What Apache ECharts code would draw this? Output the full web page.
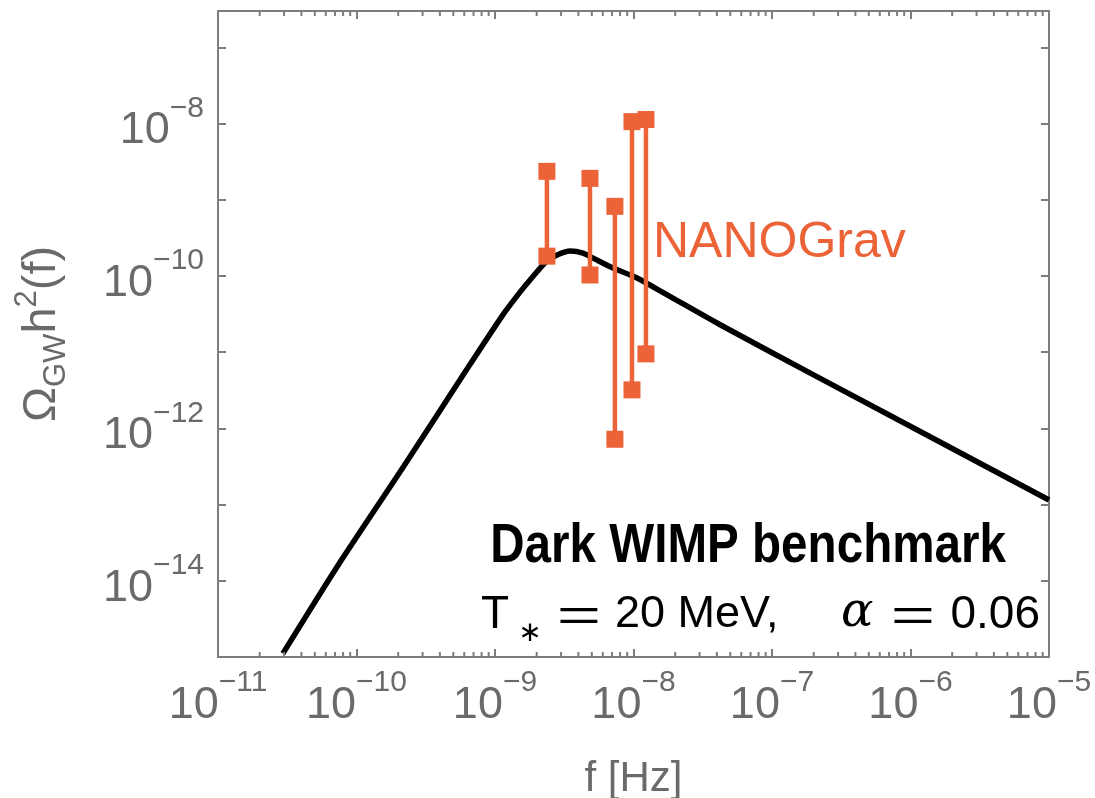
<!DOCTYPE html>
<html>
<head>
<meta charset="utf-8">
<script src="https://cdn.jsdelivr.net/npm/echarts@6/dist/echarts.min.js"></script>
<style>
html,body{margin:0;padding:0;background:#fff;}
#chart{width:1095px;height:798px;}
</style>
</head>
<body>
<div id="chart"></div>
<script>
// ---- data ----
const xDecades = [1e-11, 1e-10, 1e-9, 1e-8, 1e-7, 1e-6, 1e-5];
const yDecades = [1e-15, 1e-14, 1e-13, 1e-12, 1e-11, 1e-10, 1e-9, 1e-8, 1e-7];
const X_MIN = 1e-11, X_MAX = 1e-5;
const Y_MIN = 1e-15, Y_MAX = 3e-7;

// GW spectrum (Dark WIMP benchmark)
const curveF     = [2.94e-11, 7.23e-11, 2.17e-10, 6.59e-10, 1.14e-9, 1.52e-9, 1.79e-9, 2.37e-9, 2.81e-9, 3.48e-9, 4.32e-9, 5.10e-9, 7.11e-9, 1.06e-8, 1.75e-8, 4.22e-8, 1.98e-7, 1e-5];
const curveOmega = [1.11e-15, 1.52e-14, 3.09e-13, 6.87e-12, 3.09e-11, 6.18e-11, 8.87e-11, 1.57e-10, 1.88e-10, 2.12e-10, 2.00e-10, 1.72e-10, 1.27e-10, 9.42e-11, 5.65e-11, 2.29e-11, 5.08e-12, 1.15e-13];

// NANOGrav bars
const ngF    = [2.37e-9, 4.85e-9, 7.34e-9, 9.75e-9, 1.23e-8];
const ngLow  = [1.82e-10, 1.03e-10, 7.2e-13, 3.2e-12, 9.5e-12];
const ngHigh = [2.36e-9, 1.91e-9, 8.2e-10, 1.06e-8, 1.13e-8];

const ORANGE = '#EC6338';
const AXIS = '#7d7d7d';
const LABEL = '#6a6a6a';

// minor tick values on x axis (2..9 within each decade)
const minorX = [];
for (let i = 0; i < xDecades.length - 1; i++) {
  for (let k = 2; k <= 9; k++) minorX.push(k * xDecades[i]);
}

function expLabel(v, every) {
  const e = Math.log10(v);
  const r = Math.round(e);
  if (Math.abs(e - r) > 1e-6) return '';
  if (every === 2 && r % 2 !== 0) return '';
  return '{b|10}{s|\u2212' + (-r) + '}';
}
const labelRich = {
  b: {fontSize: 45, fontFamily: 'Liberation Sans', color: LABEL, lineHeight: 60, verticalAlign: 'bottom'},
  s: {fontSize: 30, fontFamily: 'Liberation Sans', color: LABEL, lineHeight: 30, verticalAlign: 'top'}
};

// detect narrow font
function hasFont(name) {
  const c = document.createElement('canvas').getContext('2d');
  const t = 'Dark WIMP benchmark';
  c.font = 'bold 50px monospace';
  const w0 = c.measureText(t).width;
  c.font = 'bold 50px "' + name + '", monospace';
  return Math.abs(c.measureText(t).width - w0) > 0.5;
}
const narrow = hasFont('Liberation Sans Narrow');

const chart = echarts.init(document.getElementById('chart'), null, {renderer: 'canvas'});

const commonX = {
  type: 'log', logBase: 10, min: X_MIN, max: X_MAX,
  axisLine: {show: true, lineStyle: {color: AXIS, width: 2}},
  axisTick: {show: true, inside: true, length: 8, lineStyle: {color: AXIS, width: 2}},
  splitLine: {show: false}
};
const commonY = {
  type: 'log', logBase: 10, min: Y_MIN, max: Y_MAX,
  axisLine: {show: true, lineStyle: {color: AXIS, width: 2}},
  axisTick: {show: true, inside: true, length: 8, lineStyle: {color: AXIS, width: 2}},
  splitLine: {show: false}
};

const txtFont = '"Liberation Sans"';
const option = {
  animation: false,
  backgroundColor: '#fff',
  grid: {left: 218, right: 46, top: 11, bottom: 141, containLabel: false, outerBoundsMode: 'none'},
  xAxis: [
    Object.assign({}, commonX, {
      position: 'bottom',
      name: 'f [Hz]', nameLocation: 'middle', nameGap: 101,
      nameTextStyle: {fontSize: 42, fontFamily: 'Liberation Sans', color: LABEL},
      axisLabel: {show: true, margin: 11, formatter: v => expLabel(v, 1), rich: labelRich,
                  showMinLabel: true, showMaxLabel: true}
    }),
    Object.assign({}, commonX, {position: 'top', axisLabel: {show: false}})
  ],
  yAxis: [
    Object.assign({}, commonY, {
      position: 'left',
      name: '{o|\u03A9}{sub|GW}{h|h}{sup|2}{h|(f)}',
      nameLocation: 'middle', nameGap: 146, nameRotate: 90,
      nameTextStyle: {
        color: LABEL, fontFamily: 'Liberation Sans',
        rich: {
          o: {fontSize: 47, fontFamily: 'Liberation Sans', color: LABEL, lineHeight: 60, verticalAlign: 'middle'},
          h: {fontSize: 47, fontFamily: 'Liberation Sans', color: LABEL, lineHeight: 60, verticalAlign: 'middle'},
          sub: {fontSize: 31, fontFamily: 'Liberation Sans', color: LABEL, lineHeight: 31, verticalAlign: 'bottom'},
          sup: {fontSize: 31, fontFamily: 'Liberation Sans', color: LABEL, lineHeight: 31, verticalAlign: 'top'}
        }
      },
      axisLabel: {show: true, margin: 14, formatter: v => expLabel(v, 2), rich: labelRich}
    }),
    Object.assign({}, commonY, {position: 'right', axisLabel: {show: false}})
  ],
  graphic: [
    {
      type: 'text', x: 1006, y: 547, scaleX: narrow ? 1 : 0.85, scaleY: 1,
      style: {
        text: 'Dark WIMP benchmark', align: 'right', verticalAlign: 'middle',
        font: 'bold 56px ' + (narrow ? '"Liberation Sans Narrow"' : txtFont),
        fill: '#000'
      }
    },
    // T_* = 20 MeV,  alpha = 0.06
    {type: 'text', x: 481, y: 615, style: {text: 'T', align: 'left', verticalAlign: 'middle', font: '46px ' + txtFont, fill: '#000'}},
    {type: 'text', x: 530, y: 634, style: {text: '\u2217', align: 'center', verticalAlign: 'middle', font: '28px "DejaVu Sans"', fill: '#000'}},
    {type: 'text', x: 579, y: 618, scaleX: 1.65, style: {text: '=', align: 'center', verticalAlign: 'middle', font: '46px ' + txtFont, fill: '#000'}},
    {type: 'text', x: 615, y: 615, style: {text: '20 MeV,', align: 'left', verticalAlign: 'middle', font: '45px ' + txtFont, fill: '#000'}},
    {type: 'text', x: 841, y: 614, style: {text: '\u03B1', align: 'left', verticalAlign: 'middle', font: 'italic 48px "DejaVu Serif"', fill: '#000'}},
    {type: 'text', x: 913, y: 618, scaleX: 1.65, style: {text: '=', align: 'center', verticalAlign: 'middle', font: '46px ' + txtFont, fill: '#000'}},
    {type: 'text', x: 1040, y: 615, style: {text: '0.06', align: 'right', verticalAlign: 'middle', font: '46px ' + txtFont, fill: '#000'}},
    {
      type: 'text', x: 653, y: 243,
      style: {
        text: 'NANOGrav', align: 'left', verticalAlign: 'middle',
        font: '50px ' + txtFont, fill: ORANGE
      }
    }
  ],
  series: [
    {
      name: 'minor ticks', type: 'custom', xAxisIndex: 0, yAxisIndex: 0,
      data: minorX.map(v => [v]),
      encode: {x: 0},
      clip: false, silent: true, z: 5,
      renderItem: function (params, api) {
        const v = api.value(0);
        const pb = api.coord([v, Y_MIN]);
        const pt = api.coord([v, Y_MAX]);
        return {
          type: 'group',
          children: [
            {type: 'line', shape: {x1: pb[0], y1: pb[1], x2: pb[0], y2: pb[1] - 5}, style: {stroke: AXIS, lineWidth: 2}},
            {type: 'line', shape: {x1: pt[0], y1: pt[1], x2: pt[0], y2: pt[1] + 5}, style: {stroke: AXIS, lineWidth: 2}}
          ]
        };
      }
    },
    {
      name: 'Dark WIMP', type: 'line', xAxisIndex: 0, yAxisIndex: 0,
      data: curveF.map((f, i) => [f, curveOmega[i]]),
      showSymbol: false, smooth: 0.25, clip: true,
      lineStyle: {color: '#000', width: 5.5, join: 'round'}, z: 3
    },
    {
      name: 'NANOGrav', type: 'custom', xAxisIndex: 0, yAxisIndex: 0,
      data: ngF.map((f, i) => [f, ngLow[i], ngHigh[i]]),
      encode: {x: 0, y: [1, 2]},
      z: 4,
      renderItem: function (params, api) {
        const f = api.value(0);
        const pLo = api.coord([f, api.value(1)]);
        const pHi = api.coord([f, api.value(2)]);
        const s = 17;
        return {
          type: 'group',
          children: [
            {type: 'line', shape: {x1: pLo[0], y1: pLo[1], x2: pHi[0], y2: pHi[1]}, style: {stroke: ORANGE, lineWidth: 4.5}},
            {type: 'rect', shape: {x: pLo[0] - s / 2, y: pLo[1] - s / 2, width: s, height: s}, style: {fill: ORANGE}},
            {type: 'rect', shape: {x: pHi[0] - s / 2, y: pHi[1] - s / 2, width: s, height: s}, style: {fill: ORANGE}}
          ]
        };
      }
    }
  ]
};
chart.setOption(option);
</script>
</body>
</html>
